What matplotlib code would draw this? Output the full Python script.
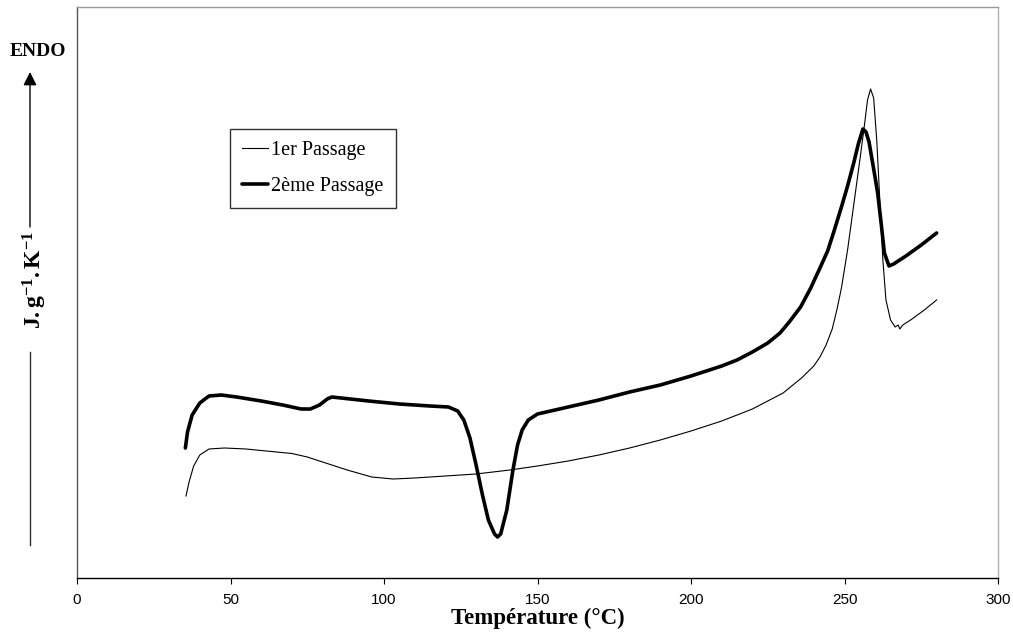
import matplotlib
matplotlib.use("Agg")
import matplotlib.pyplot as plt
from matplotlib.lines import Line2D
from matplotlib.patches import FancyArrowPatch

# ---- data (y in arbitrary units) ----
t1 = [35.5, 36.5, 38, 40, 43, 48, 55, 65, 70, 75, 80, 88, 96, 103, 110, 120, 130, 141,
      150, 160, 170, 180, 190, 200, 210, 220, 230, 236, 240, 242, 244, 246, 247.5,
      249, 251, 253, 255, 256.5, 257.5, 258.5, 259.5, 260.5, 261.5, 262.5, 263.5,
      265, 266.5, 267.5, 268, 269, 272, 276, 280]
y1 = [82, 96, 112, 123, 129, 130, 129, 126, 124.5, 121, 116, 108, 101, 99, 100, 102, 104, 108,
      112, 117, 123, 130, 138, 147, 157, 169, 185, 200, 212, 221, 233, 249, 268,
      290, 328, 373, 418, 453, 478, 489, 480, 438, 378, 318, 278,
      258, 251, 253, 249, 253, 259, 268, 278]

t2 = [35.3, 36, 37.5, 40, 43, 47, 52, 60, 67, 73, 76, 79, 81.5, 83, 86, 95, 105, 115,
      121, 124, 126, 128, 130, 132, 134, 136, 137, 138, 140, 142, 143.5, 145, 147,
      150, 160, 170, 180, 190, 200, 210, 215, 220, 225, 229, 232, 235.7, 239, 242,
      244.5, 246.5, 249, 251, 253, 254.5, 256, 257, 258, 259, 260, 260.8, 262, 263,
      264.5, 266, 270, 275, 280]
y2 = [130, 146, 163, 175, 182, 183, 181, 177, 173, 169, 169, 173, 179, 181, 180, 177, 174, 172,
      171, 167, 158, 140, 113, 84, 58, 44, 41, 44, 68, 108, 133, 148, 158,
      164, 171, 178, 186, 193, 202, 212, 218, 226, 235, 245, 256, 271, 290, 310,
      327, 346, 371, 392, 415, 434, 449, 446, 436, 418, 400, 385, 353, 325,
      312, 314, 322, 333, 345]

labels = ["1er Passage", "2ème Passage"]
xticks = [0, 50, 100, 150, 200, 250, 300]

W, H = 1013, 642
plt.rcParams['mathtext.fontset'] = 'custom'
plt.rcParams['mathtext.rm'] = 'Liberation Serif'
plt.rcParams['mathtext.bf'] = 'Liberation Serif:bold'
plt.rcParams['mathtext.it'] = 'Liberation Serif:italic'

fig = plt.figure(figsize=(W / 100, H / 100), dpi=100)
ax = fig.add_axes([77 / W, (H - 578) / H, 921 / W, 571 / H])

ax.plot(t1, y1, color='black', lw=0.8, label=labels[0], solid_joinstyle='round')
ax.plot(t2, y2, color='black', lw=2.6, label=labels[1], solid_joinstyle='round',
        solid_capstyle='round')

ax.set_xlim(0, 300)
ax.set_ylim(0, 571)
ax.set_xticks(xticks)
ax.set_xticklabels([str(v) for v in xticks], fontfamily='Liberation Sans', fontsize=11)
ax.set_yticks([])
ax.tick_params(axis='x', direction='out', length=4, width=0.8, pad=6.5, colors='black')

ax.spines['left'].set_color('#555555')
ax.spines['bottom'].set_color('black')
ax.spines['top'].set_color('#999999')
ax.spines['right'].set_color('#b0b0b0')
for s in ax.spines.values():
    s.set_linewidth(1.0)

leg = ax.legend(loc='upper left', bbox_to_anchor=(230 / W, 1 - 129 / H),
                bbox_transform=fig.transFigure, borderaxespad=0,
                prop={'family': 'Liberation Serif', 'size': 14.5},
                frameon=True, fancybox=False, edgecolor='black',
                handlelength=1.3, handletextpad=0.15, labelspacing=0.85,
                borderpad=0.6)
leg.get_frame().set_linewidth(1.0)

fig.text(537.5 / W, 1 - 618 / H, 'Température (°C)', ha='center', va='center',
         fontfamily='Liberation Serif', fontweight='bold', fontsize=16.5)

fig.text(37.5 / W, 1 - 52 / H, 'ENDO', ha='center', va='center',
         fontfamily='Liberation Serif', fontweight='bold', fontsize=14)

fig.text(35 / W, 1 - 280 / H, r'$\mathbf{J.g^{-1}.K^{-1}}$', ha='center', va='center',
         rotation=90, fontsize=17)

arrow = FancyArrowPatch((30 / W, 1 - 227 / H), (30 / W, 1 - 72 / H),
                        transform=fig.transFigure,
                        arrowstyle='-|>,head_length=0.8,head_width=0.4',
                        mutation_scale=10, color='black', lw=1.0, shrinkA=0, shrinkB=0)
fig.add_artist(arrow)
fig.add_artist(Line2D([30 / W, 30 / W], [1 - 352 / H, 1 - 545 / H],
                      transform=fig.transFigure, color='#333333', lw=1.0))

fig.savefig('out.png', dpi=100)
